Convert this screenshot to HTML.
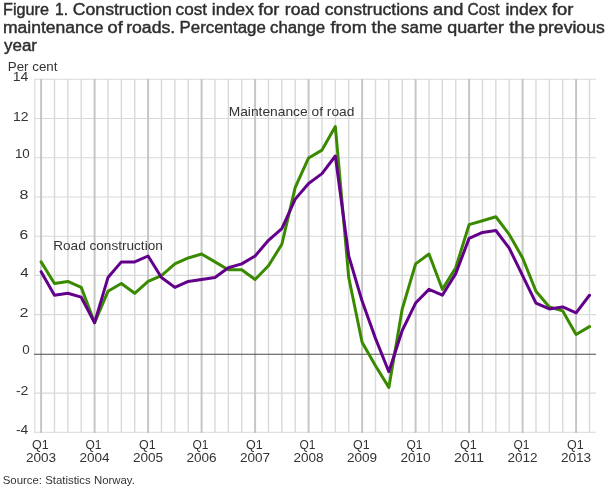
<!DOCTYPE html><html><head><meta charset="utf-8"><style>html,body{margin:0;padding:0;background:#fff;width:610px;height:488px;overflow:hidden}svg{display:block;will-change:transform}text{font-family:"Liberation Sans", sans-serif}</style></head><body>
<svg width="610" height="488" viewBox="0 0 610 488">
<rect width="610" height="488" fill="#fff"/>
<g fill="#2e2e2e" font-size="16" stroke="#2e2e2e" stroke-width="0.42">
<text x="3.00" y="15.0" textLength="46.00" lengthAdjust="spacingAndGlyphs">Figure</text>
<text x="55.00" y="15.0" textLength="13.00" lengthAdjust="spacingAndGlyphs">1.</text>
<text x="72.80" y="15.0" textLength="99.00" lengthAdjust="spacingAndGlyphs">Construction</text>
<text x="175.60" y="15.0" textLength="31.40" lengthAdjust="spacingAndGlyphs">cost</text>
<text x="211.80" y="15.0" textLength="42.20" lengthAdjust="spacingAndGlyphs">index</text>
<text x="258.20" y="15.0" textLength="21.20" lengthAdjust="spacingAndGlyphs">for</text>
<text x="284.80" y="15.0" textLength="35.20" lengthAdjust="spacingAndGlyphs">road</text>
<text x="324.80" y="15.0" textLength="103.60" lengthAdjust="spacingAndGlyphs">constructions</text>
<text x="433.00" y="15.0" textLength="30.40" lengthAdjust="spacingAndGlyphs">and</text>
<text x="467.60" y="15.0" textLength="32.00" lengthAdjust="spacingAndGlyphs">Cost</text>
<text x="505.40" y="15.0" textLength="42.00" lengthAdjust="spacingAndGlyphs">index</text>
<text x="552.00" y="15.0" textLength="21.40" lengthAdjust="spacingAndGlyphs">for</text>
<text x="3.00" y="33.2" textLength="100.40" lengthAdjust="spacingAndGlyphs">maintenance</text>
<text x="107.60" y="33.2" textLength="15.20" lengthAdjust="spacingAndGlyphs">of</text>
<text x="126.20" y="33.2" textLength="49.00" lengthAdjust="spacingAndGlyphs">roads.</text>
<text x="179.60" y="33.2" textLength="86.20" lengthAdjust="spacingAndGlyphs">Percentage</text>
<text x="270.00" y="33.2" textLength="55.20" lengthAdjust="spacingAndGlyphs">change</text>
<text x="330.40" y="33.2" textLength="36.40" lengthAdjust="spacingAndGlyphs">from</text>
<text x="371.60" y="33.2" textLength="25.20" lengthAdjust="spacingAndGlyphs">the</text>
<text x="401.00" y="33.2" textLength="41.40" lengthAdjust="spacingAndGlyphs">same</text>
<text x="447.20" y="33.2" textLength="56.80" lengthAdjust="spacingAndGlyphs">quarter</text>
<text x="509.20" y="33.2" textLength="25.80" lengthAdjust="spacingAndGlyphs">the</text>
<text x="538.20" y="33.2" textLength="66.60" lengthAdjust="spacingAndGlyphs">previous</text>
<text x="4" y="51.4" textLength="33" lengthAdjust="spacingAndGlyphs">year</text>
</g>
<line x1="34" y1="432.30" x2="596" y2="432.30" stroke="#d9d9d9" stroke-width="1.1"/><line x1="34" y1="393.08" x2="596" y2="393.08" stroke="#d9d9d9" stroke-width="1.1"/><line x1="34" y1="314.63" x2="596" y2="314.63" stroke="#d9d9d9" stroke-width="1.1"/><line x1="34" y1="275.41" x2="596" y2="275.41" stroke="#d9d9d9" stroke-width="1.1"/><line x1="34" y1="236.19" x2="596" y2="236.19" stroke="#d9d9d9" stroke-width="1.1"/><line x1="34" y1="196.97" x2="596" y2="196.97" stroke="#d9d9d9" stroke-width="1.1"/><line x1="34" y1="157.74" x2="596" y2="157.74" stroke="#d9d9d9" stroke-width="1.1"/><line x1="34" y1="118.52" x2="596" y2="118.52" stroke="#d9d9d9" stroke-width="1.1"/><line x1="34" y1="79.30" x2="596" y2="79.30" stroke="#d9d9d9" stroke-width="1.1"/><line x1="41.10" y1="79" x2="41.10" y2="433" stroke="#c6c6c6" stroke-width="2"/><line x1="54.48" y1="79" x2="54.48" y2="433" stroke="#d9d9d9" stroke-width="1.4"/><line x1="67.85" y1="79" x2="67.85" y2="433" stroke="#d9d9d9" stroke-width="1.4"/><line x1="81.22" y1="79" x2="81.22" y2="433" stroke="#d9d9d9" stroke-width="1.4"/><line x1="94.60" y1="79" x2="94.60" y2="433" stroke="#c6c6c6" stroke-width="2"/><line x1="107.97" y1="79" x2="107.97" y2="433" stroke="#d9d9d9" stroke-width="1.4"/><line x1="121.35" y1="79" x2="121.35" y2="433" stroke="#d9d9d9" stroke-width="1.4"/><line x1="134.72" y1="79" x2="134.72" y2="433" stroke="#d9d9d9" stroke-width="1.4"/><line x1="148.10" y1="79" x2="148.10" y2="433" stroke="#c6c6c6" stroke-width="2"/><line x1="161.47" y1="79" x2="161.47" y2="433" stroke="#d9d9d9" stroke-width="1.4"/><line x1="174.85" y1="79" x2="174.85" y2="433" stroke="#d9d9d9" stroke-width="1.4"/><line x1="188.22" y1="79" x2="188.22" y2="433" stroke="#d9d9d9" stroke-width="1.4"/><line x1="201.60" y1="79" x2="201.60" y2="433" stroke="#c6c6c6" stroke-width="2"/><line x1="214.97" y1="79" x2="214.97" y2="433" stroke="#d9d9d9" stroke-width="1.4"/><line x1="228.35" y1="79" x2="228.35" y2="433" stroke="#d9d9d9" stroke-width="1.4"/><line x1="241.72" y1="79" x2="241.72" y2="433" stroke="#d9d9d9" stroke-width="1.4"/><line x1="255.10" y1="79" x2="255.10" y2="433" stroke="#c6c6c6" stroke-width="2"/><line x1="268.48" y1="79" x2="268.48" y2="433" stroke="#d9d9d9" stroke-width="1.4"/><line x1="281.85" y1="79" x2="281.85" y2="433" stroke="#d9d9d9" stroke-width="1.4"/><line x1="295.23" y1="79" x2="295.23" y2="433" stroke="#d9d9d9" stroke-width="1.4"/><line x1="308.60" y1="79" x2="308.60" y2="433" stroke="#c6c6c6" stroke-width="2"/><line x1="321.98" y1="79" x2="321.98" y2="433" stroke="#d9d9d9" stroke-width="1.4"/><line x1="335.35" y1="79" x2="335.35" y2="433" stroke="#d9d9d9" stroke-width="1.4"/><line x1="348.73" y1="79" x2="348.73" y2="433" stroke="#d9d9d9" stroke-width="1.4"/><line x1="362.10" y1="79" x2="362.10" y2="433" stroke="#c6c6c6" stroke-width="2"/><line x1="375.48" y1="79" x2="375.48" y2="433" stroke="#d9d9d9" stroke-width="1.4"/><line x1="388.85" y1="79" x2="388.85" y2="433" stroke="#d9d9d9" stroke-width="1.4"/><line x1="402.23" y1="79" x2="402.23" y2="433" stroke="#d9d9d9" stroke-width="1.4"/><line x1="415.60" y1="79" x2="415.60" y2="433" stroke="#c6c6c6" stroke-width="2"/><line x1="428.98" y1="79" x2="428.98" y2="433" stroke="#d9d9d9" stroke-width="1.4"/><line x1="442.35" y1="79" x2="442.35" y2="433" stroke="#d9d9d9" stroke-width="1.4"/><line x1="455.73" y1="79" x2="455.73" y2="433" stroke="#d9d9d9" stroke-width="1.4"/><line x1="469.10" y1="79" x2="469.10" y2="433" stroke="#c6c6c6" stroke-width="2"/><line x1="482.48" y1="79" x2="482.48" y2="433" stroke="#d9d9d9" stroke-width="1.4"/><line x1="495.85" y1="79" x2="495.85" y2="433" stroke="#d9d9d9" stroke-width="1.4"/><line x1="509.23" y1="79" x2="509.23" y2="433" stroke="#d9d9d9" stroke-width="1.4"/><line x1="522.60" y1="79" x2="522.60" y2="433" stroke="#c6c6c6" stroke-width="2"/><line x1="535.98" y1="79" x2="535.98" y2="433" stroke="#d9d9d9" stroke-width="1.4"/><line x1="549.35" y1="79" x2="549.35" y2="433" stroke="#d9d9d9" stroke-width="1.4"/><line x1="562.73" y1="79" x2="562.73" y2="433" stroke="#d9d9d9" stroke-width="1.4"/><line x1="576.10" y1="79" x2="576.10" y2="433" stroke="#c6c6c6" stroke-width="2"/><line x1="589.48" y1="79" x2="589.48" y2="433" stroke="#d9d9d9" stroke-width="1.4"/><line x1="34.8" y1="79" x2="34.8" y2="433" stroke="#d9d9d9" stroke-width="1.1"/><line x1="34" y1="354.26" x2="596" y2="354.26" stroke="#4a4a4a" stroke-width="1.1"/>
<g fill="#333333" font-size="13">
<text x="15.92" y="434.30" textLength="12.34" lengthAdjust="spacingAndGlyphs">-4</text>
<text x="15.92" y="395.10" textLength="12.54" lengthAdjust="spacingAndGlyphs">-2</text>
<text x="22.30" y="354.00" textLength="7.46" lengthAdjust="spacingAndGlyphs">0</text>
<text x="19.54" y="316.80" textLength="8.92" lengthAdjust="spacingAndGlyphs">2</text>
<text x="20.24" y="277.30" textLength="8.46" lengthAdjust="spacingAndGlyphs">4</text>
<text x="19.54" y="238.50" textLength="8.66" lengthAdjust="spacingAndGlyphs">6</text>
<text x="19.54" y="199.00" textLength="8.92" lengthAdjust="spacingAndGlyphs">8</text>
<text x="14.92" y="158.00" textLength="14.84" lengthAdjust="spacingAndGlyphs">10</text>
<text x="12.92" y="121.00" textLength="15.54" lengthAdjust="spacingAndGlyphs">12</text>
<text x="12.66" y="81.20" textLength="15.60" lengthAdjust="spacingAndGlyphs">14</text>
<text x="32.05" y="448.6" textLength="16.66" lengthAdjust="spacingAndGlyphs">Q1</text>
<text x="25.92" y="462.0" textLength="30.22" lengthAdjust="spacingAndGlyphs">2003</text>
<text x="85.55" y="448.6" textLength="15.96" lengthAdjust="spacingAndGlyphs">Q1</text>
<text x="79.42" y="462.0" textLength="30.22" lengthAdjust="spacingAndGlyphs">2004</text>
<text x="139.05" y="448.6" textLength="16.66" lengthAdjust="spacingAndGlyphs">Q1</text>
<text x="132.92" y="462.0" textLength="30.22" lengthAdjust="spacingAndGlyphs">2005</text>
<text x="192.55" y="448.6" textLength="15.96" lengthAdjust="spacingAndGlyphs">Q1</text>
<text x="186.42" y="462.0" textLength="30.22" lengthAdjust="spacingAndGlyphs">2006</text>
<text x="246.05" y="448.6" textLength="16.66" lengthAdjust="spacingAndGlyphs">Q1</text>
<text x="239.92" y="462.0" textLength="30.22" lengthAdjust="spacingAndGlyphs">2007</text>
<text x="299.55" y="448.6" textLength="15.96" lengthAdjust="spacingAndGlyphs">Q1</text>
<text x="293.42" y="462.0" textLength="30.22" lengthAdjust="spacingAndGlyphs">2008</text>
<text x="353.05" y="448.6" textLength="16.66" lengthAdjust="spacingAndGlyphs">Q1</text>
<text x="346.92" y="462.0" textLength="30.22" lengthAdjust="spacingAndGlyphs">2009</text>
<text x="406.55" y="448.6" textLength="15.96" lengthAdjust="spacingAndGlyphs">Q1</text>
<text x="400.42" y="462.0" textLength="30.22" lengthAdjust="spacingAndGlyphs">2010</text>
<text x="460.05" y="448.6" textLength="16.66" lengthAdjust="spacingAndGlyphs">Q1</text>
<text x="453.92" y="462.0" textLength="30.22" lengthAdjust="spacingAndGlyphs">2011</text>
<text x="513.55" y="448.6" textLength="15.96" lengthAdjust="spacingAndGlyphs">Q1</text>
<text x="507.42" y="462.0" textLength="30.22" lengthAdjust="spacingAndGlyphs">2012</text>
<text x="567.05" y="448.6" textLength="16.66" lengthAdjust="spacingAndGlyphs">Q1</text>
<text x="560.92" y="462.0" textLength="30.22" lengthAdjust="spacingAndGlyphs">2013</text>
</g>
<text x="7.80" y="70.80" fill="#333333" font-size="12" textLength="49.70" lengthAdjust="spacingAndGlyphs">Per cent</text>
<text x="228.70" y="116.00" fill="#333333" font-size="13" textLength="125.70" lengthAdjust="spacingAndGlyphs">Maintenance of road</text>
<text x="53.20" y="250.40" fill="#333333" font-size="13" textLength="109.60" lengthAdjust="spacingAndGlyphs">Road construction</text>
<text x="2.70" y="484.00" fill="#333333" font-size="11.4" textLength="132.20" lengthAdjust="spacingAndGlyphs">Source: Statistics Norway.</text>
<path d="M41.10 261.88 L54.48 283.46 L67.85 281.49 L81.22 287.38 L94.60 322.68 L107.97 291.30 L121.35 283.46 L134.72 293.26 L148.10 281.49 L161.47 275.61 L174.85 263.84 L188.22 257.96 L201.60 254.04 L214.97 261.88 L228.35 269.73 L241.72 269.73 L255.10 279.53 L268.48 265.81 L281.85 244.23 L295.23 187.36 L308.60 157.94 L321.98 150.10 L335.35 126.57 L348.73 277.57 L362.10 342.29 L375.48 365.82 L388.85 387.39 L402.23 308.95 L415.60 263.84 L428.98 254.04 L442.35 289.34 L455.73 267.77 L469.10 224.62 L482.48 220.70 L495.85 216.78 L509.23 234.43 L522.60 257.96 L535.98 291.30 L549.35 306.99 L562.73 310.91 L576.10 334.44 L589.48 326.60" fill="none" stroke="#3a8a00" stroke-width="3" stroke-linejoin="round" stroke-linecap="round"/>
<path d="M41.10 271.69 L54.48 295.22 L67.85 293.26 L81.22 297.18 L94.60 322.68 L107.97 277.57 L121.35 261.88 L134.72 261.88 L148.10 256.00 L161.47 277.57 L174.85 287.38 L188.22 281.49 L201.60 279.53 L214.97 277.57 L228.35 267.77 L241.72 263.84 L255.10 256.00 L268.48 240.31 L281.85 228.54 L295.23 199.13 L308.60 183.44 L321.98 173.63 L335.35 155.98 L348.73 256.00 L362.10 301.11 L375.48 338.37 L388.85 371.71 L402.23 330.52 L415.60 303.07 L428.98 289.34 L442.35 295.22 L455.73 273.65 L469.10 238.35 L482.48 232.47 L495.85 230.51 L509.23 248.16 L522.60 275.61 L535.98 303.07 L549.35 308.95 L562.73 306.99 L576.10 312.87 L589.48 295.22" fill="none" stroke="#62008c" stroke-width="3" stroke-linejoin="round" stroke-linecap="round"/>
</svg></body></html>
